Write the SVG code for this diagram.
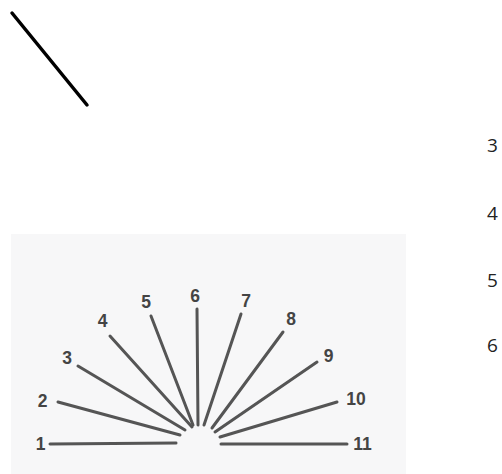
<svg xmlns="http://www.w3.org/2000/svg" width="502" height="474" viewBox="0 0 502 474">
<style>
.ray{stroke:#555;stroke-width:3;stroke-linecap:round;fill:none}
.lbl{font-family:"Liberation Sans",Arial,sans-serif;font-weight:bold;font-size:17.5px;fill:#444;text-anchor:middle}
.num{font-family:"Open Sans","Noto Sans",sans-serif;font-size:19px;fill:#222}
</style>
<rect width="502" height="474" fill="#fff"/>
<line x1="12" y1="13" x2="87" y2="105" stroke="#000" stroke-width="3.5" stroke-linecap="round"/>
<g id="right-numbers">
<text class="num" x="487" y="152">3</text>
<text class="num" x="487" y="220">4</text>
<text class="num" x="487" y="287">5</text>
<text class="num" x="487" y="352">6</text>
</g>
<g id="photo">
<rect x="11" y="234" width="395" height="240" fill="#f7f7f8"/>
<g id="rays">
<line class="ray" x1="50" y1="444" x2="176" y2="443"/>
<line class="ray" x1="58" y1="402" x2="180" y2="435"/>
<line class="ray" x1="78" y1="366" x2="185" y2="430"/>
<line class="ray" x1="110" y1="336" x2="192" y2="427"/>
<line class="ray" x1="151" y1="316" x2="193" y2="425"/>
<line class="ray" x1="197" y1="309" x2="198" y2="425"/>
<line class="ray" x1="241" y1="314" x2="204" y2="425"/>
<line class="ray" x1="283" y1="332" x2="212" y2="428"/>
<line class="ray" x1="317" y1="362" x2="215" y2="432"/>
<line class="ray" x1="337" y1="402" x2="220" y2="437"/>
<line class="ray" x1="221" y1="444" x2="347" y2="444"/>
</g>
<g id="labels">
<text class="lbl" x="40.5" y="450">1</text>
<text class="lbl" x="42.5" y="407">2</text>
<text class="lbl" x="67" y="364">3</text>
<text class="lbl" x="102.5" y="327">4</text>
<text class="lbl" x="146" y="308">5</text>
<text class="lbl" x="195" y="302">6</text>
<text class="lbl" x="246" y="307">7</text>
<text class="lbl" x="291" y="325">8</text>
<text class="lbl" x="328.5" y="362">9</text>
<text class="lbl" x="356" y="405">10</text>
<text class="lbl" x="362.5" y="450">11</text>
</g>
</g>
</svg>
